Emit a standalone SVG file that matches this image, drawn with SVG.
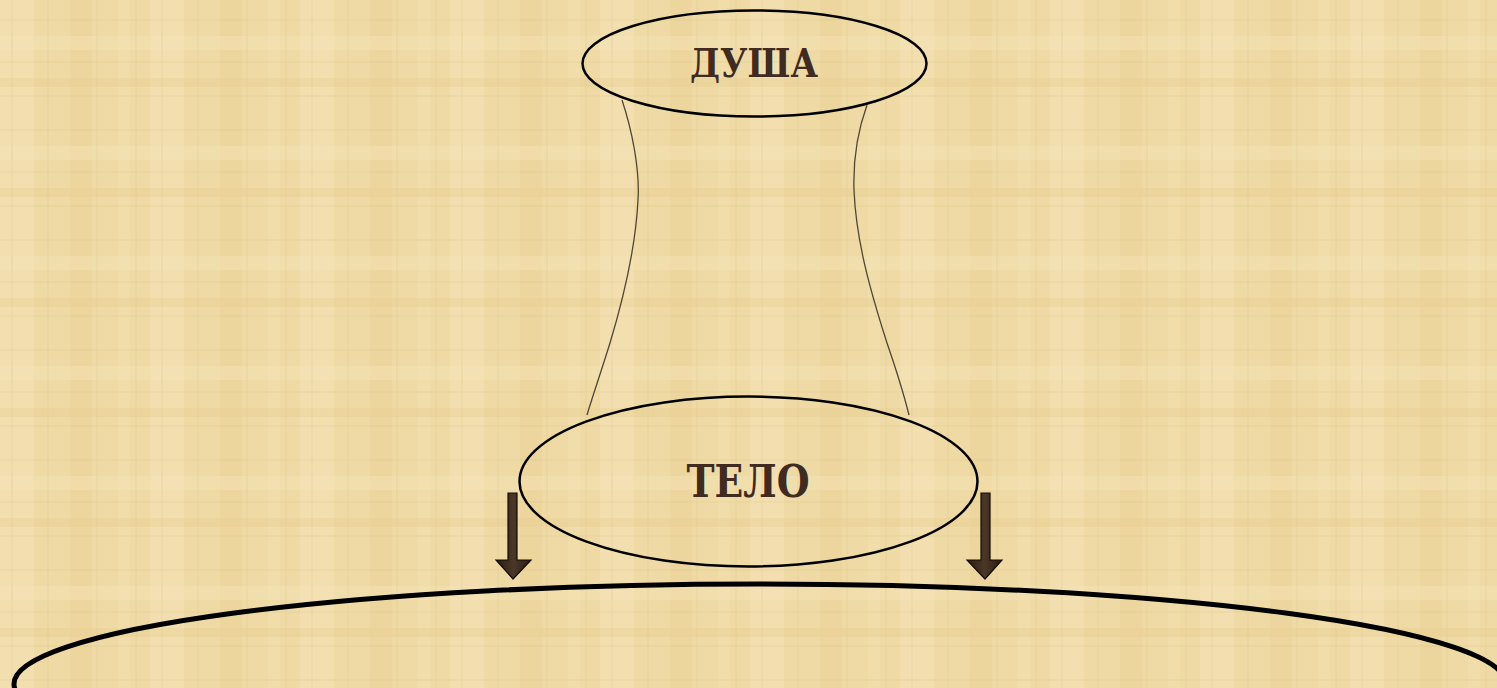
<svg xmlns="http://www.w3.org/2000/svg" width="1497" height="688" viewBox="0 0 1497 688">
  <defs>
    <pattern id="papyrus" x="0" y="0" width="150" height="110" patternUnits="userSpaceOnUse">
      <rect width="150" height="110" fill="#efdaa5"/>
      <rect x="0" y="0" width="34" height="110" fill="#f4e2b7" opacity="0.55"/>
      <rect x="70" y="0" width="22" height="110" fill="#e8cf93" opacity="0.4"/>
      <rect x="118" y="0" width="12" height="110" fill="#f2dfb0" opacity="0.5"/>
      <rect x="0" y="36" width="150" height="14" fill="#f4e3b9" opacity="0.4"/>
      <rect x="0" y="78" width="150" height="9" fill="#e6cb8c" opacity="0.3"/>
      <g stroke="#dcc287" stroke-width="1" opacity="0.35">
        <line x1="12" y1="0" x2="12" y2="110"/>
        <line x1="48" y1="0" x2="48" y2="110"/>
        <line x1="97" y1="0" x2="97" y2="110"/>
        <line x1="136" y1="0" x2="136" y2="110"/>
        <line x1="0" y1="20" x2="150" y2="20"/>
        <line x1="0" y1="62" x2="150" y2="62"/>
        <line x1="0" y1="96" x2="150" y2="96"/>
      </g>
    </pattern>
    <linearGradient id="shaft" x1="0" y1="0" x2="1" y2="0">
      <stop offset="0" stop-color="#2a1c13"/>
      <stop offset="0.5" stop-color="#4a3727"/>
      <stop offset="1" stop-color="#2a1c13"/>
    </linearGradient>
    <style>
      .node { fill: none; stroke: #000; stroke-width: 2.5; }
      .big { fill: none; stroke: #000; stroke-width: 5; }
      .label { font-family: "DejaVu Serif", "Liberation Serif", serif; font-weight: bold; fill: #3f2b1f; text-anchor: middle; }
      .link { fill: none; stroke: #4f4636; stroke-width: 1.3; }
      .arrow { fill: url(#shaft); stroke: #120c08; stroke-width: 1.2; }
    </style>
  </defs>

  <rect width="1497" height="688" fill="url(#papyrus)"/>

  <g id="connectors">
    <path class="link" d="M622,100 C632,130 640,170 638,200 C636,240 626,290 610,343 C600,375 592,398 587,415"/>
    <path class="link" d="M867,105 C858,130 853,160 854,190 C856,240 870,290 887,343 C897,372 904,395 909,415"/>
    <path class="arrow" d="M508,493 L517,493 L517,560 L531,560 L513,579 L496,560 L508,560 Z"/>
    <path class="arrow" d="M981,493 L990,493 L990,560 L1002,560 L985,579 L967,560 L981,560 Z"/>
  </g>

  <g id="node-dusha">
    <ellipse class="node" cx="754.5" cy="63.5" rx="172" ry="53"/>
    <text class="label" x="754" y="77" font-size="40" textLength="128" lengthAdjust="spacingAndGlyphs">ДУША</text>
  </g>

  <g id="node-telo">
    <ellipse class="node" cx="748.5" cy="481.5" rx="229" ry="85"/>
    <text class="label" x="748" y="497" font-size="44" textLength="123" lengthAdjust="spacingAndGlyphs">ТЕЛО</text>
  </g>

  <g id="node-world">
    <ellipse class="big" cx="760" cy="684" rx="746" ry="100"/>
  </g>
</svg>
